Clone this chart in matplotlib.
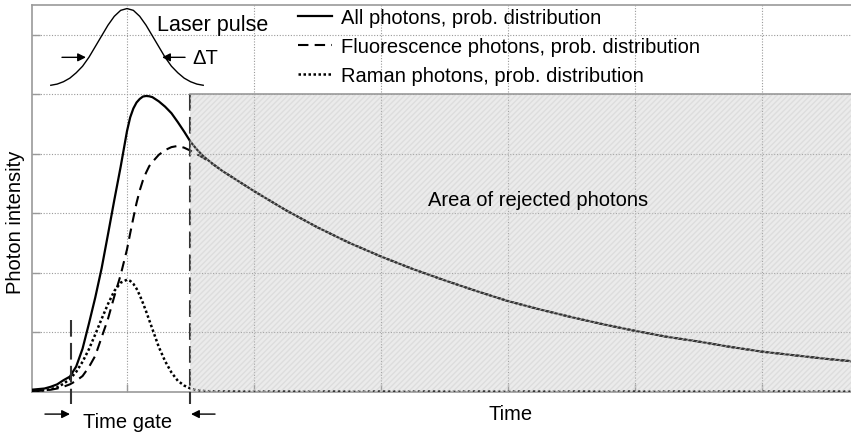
import matplotlib
matplotlib.use("Agg")
import matplotlib.pyplot as plt
from matplotlib.patches import Rectangle

plt.rcParams['font.family'] = ['Liberation Sans', 'DejaVu Sans']

# ---- data (arbitrary time / intensity units) ----
time = [0.25, 0.30, 0.35, 0.40, 0.45, 0.50, 0.55, 0.60, 0.65, 0.70, 0.75, 0.80,
        0.85, 0.90, 0.95, 1.00, 1.025, 1.05, 1.075, 1.10, 1.125, 1.15, 1.175, 1.20,
        1.25, 1.30, 1.35, 1.40, 1.45, 1.50, 1.55, 1.60, 1.65, 1.75, 2.00, 2.25,
        2.50, 2.75, 3.00, 3.25, 3.50, 3.75, 4.00, 4.25, 4.50, 4.75, 5.00, 5.25,
        5.50, 5.75, 6.00, 6.25, 6.50, 6.75]
all_photons = [0.03, 0.04, 0.05, 0.08, 0.12, 0.19, 0.25, 0.42, 0.72, 1.14, 1.58, 2.07,
               2.64, 3.22, 3.78, 4.38, 4.61, 4.76, 4.86, 4.92, 4.96, 4.97, 4.965, 4.95,
               4.88, 4.79, 4.68, 4.53, 4.37, 4.20, 4.07, 3.96, 3.87, 3.71, 3.37, 3.05,
               2.76, 2.50, 2.27, 2.06, 1.87, 1.69, 1.52, 1.38, 1.25, 1.13, 1.02, 0.92,
               0.84, 0.75, 0.67, 0.61, 0.55, 0.50]
fluorescence = [0.01, 0.01, 0.02, 0.03, 0.05, 0.08, 0.12, 0.18, 0.26, 0.41, 0.60, 0.91,
                1.22, 1.60, 1.96, 2.39, 2.66, 2.92, 3.17, 3.38, 3.55, 3.68, 3.79, 3.86,
                3.98, 4.06, 4.11, 4.13, 4.10, 4.05, 3.99, 3.93, 3.86, 3.71, 3.37, 3.05,
                2.76, 2.50, 2.27, 2.06, 1.87, 1.69, 1.52, 1.38, 1.25, 1.13, 1.02, 0.92,
                0.84, 0.75, 0.67, 0.61, 0.55, 0.50]
raman = [0.004, 0.009, 0.02, 0.04, 0.07, 0.13, 0.21, 0.33, 0.50, 0.71, 0.96, 1.22,
         1.47, 1.69, 1.83, 1.88, 1.86, 1.81, 1.73, 1.62, 1.49, 1.35, 1.20, 1.05,
         0.75, 0.51, 0.32, 0.18, 0.10, 0.05, 0.023, 0.01, 0.004, 0.001, 0.0, 0.0,
         0.0, 0.0, 0.0, 0.0, 0.0, 0.0, 0.0, 0.0, 0.0, 0.0, 0.0, 0.0,
         0.0, 0.0, 0.0, 0.0, 0.0, 0.0]

pulse_time = [0.40, 0.45, 0.50, 0.55, 0.60, 0.65, 0.70, 0.75, 0.80, 0.85, 0.90, 0.95,
              1.00, 1.05, 1.10, 1.15, 1.20, 1.25, 1.30, 1.35, 1.40, 1.45, 1.50, 1.55, 1.60]
pulse_level = [5.15, 5.17, 5.21, 5.27, 5.36, 5.47, 5.62, 5.80, 5.98, 6.16, 6.31, 6.41,
               6.44, 6.41, 6.31, 6.16, 5.98, 5.80, 5.62, 5.47, 5.36, 5.27, 5.21, 5.17, 5.15]

gate_start = 0.56
gate_end = 1.496
reject_top = 5.0

legend_labels = ["All photons, prob. distribution",
                 "Fluorescence photons, prob. distribution",
                 "Raman photons, prob. distribution"]

# ---- figure ----
fig = plt.figure(figsize=(8.51, 4.35), dpi=100)
ax = fig.add_axes([32 / 851, (435 - 392.5) / 435, 819 / 851, 386.5 / 435])
ax.set_xlim(0.252, 6.70)
ax.set_ylim(0, 6.5)

ax.set_xticks([1, 2, 3, 4, 5, 6])
ax.set_yticks([1, 2, 3, 4, 5, 6])
ax.set_xticklabels([])
ax.set_yticklabels([])
ax.tick_params(direction='in', length=6, color='#999999', width=1)
ax.grid(True, color='#9a9a9a', linestyle=(0, (1, 1.5)), linewidth=0.8)
for s in ['left', 'bottom', 'top']:
    ax.spines[s].set_color('#9a9a9a')
    ax.spines[s].set_linewidth(1.2)
ax.spines['right'].set_visible(False)

fs = 14.5
l1, = ax.plot(time, all_photons, color='black', lw=1.6, zorder=3)
l2, = ax.plot(time, fluorescence, color='black', lw=1.5, linestyle=(0, (5, 3)), zorder=3)
l3, = ax.plot(time, raman, color='black', lw=1.8, linestyle=(0, (1, 1)), zorder=3)

ax.plot(pulse_time, pulse_level, color='black', lw=1.0, zorder=3)

# time gate lines
ax.plot([gate_start, gate_start], [1.2, -0.21], color='#333333', lw=1.5,
        linestyle=(0, (8, 3)), clip_on=False, zorder=4)
ax.plot([gate_end, gate_end], [reject_top, -0.21], color='#333333', lw=1.5,
        linestyle=(0, (8, 3)), clip_on=False, zorder=4)

# rejected area
ax.add_patch(Rectangle((gate_end, 0), 6.70 - gate_end, reject_top,
                       facecolor='#b8b8b8', alpha=0.28, edgecolor='none', zorder=5))
ax.add_patch(Rectangle((gate_end, 0), 6.70 - gate_end, reject_top,
                       facecolor='none', edgecolor='#d4d4d4', hatch='//////',
                       lw=0, alpha=0.6, zorder=5))
ax.plot([gate_end, 6.70], [reject_top, reject_top], color='#9a9a9a', lw=1.2, zorder=5)

# arrows
arr = dict(arrowstyle='-|>', color='black', lw=1.0, mutation_scale=12, shrinkA=0, shrinkB=0)
ax.annotate('', xy=(0.677, 5.62), xytext=(0.488, 5.62), arrowprops=arr)
ax.annotate('', xy=(1.276, 5.62), xytext=(1.457, 5.62), arrowprops=arr)
ax.text(1.515, 5.62, '\u0394T', fontsize=fs, va='center', ha='left')
ax.text(1.236, 6.08, 'Laser pulse', fontsize=15.5, va='baseline', ha='left')
ax.text(3.37, 3.134, 'Area of rejected photons', fontsize=fs, va='baseline', ha='left', zorder=6)

ax.annotate('', xy=(0.551, -0.38), xytext=(0.354, -0.38), arrowprops=arr, annotation_clip=False)
ax.annotate('', xy=(1.504, -0.38), xytext=(1.693, -0.38), arrowprops=arr, annotation_clip=False)
ax.text(1.008, -0.60, 'Time gate', fontsize=fs, va='baseline', ha='center', clip_on=False)
ax.text(4.016, -0.47, 'Time', fontsize=fs, va='baseline', ha='center', clip_on=False)
fig.text(16 / 851, 1 - 222 / 435, 'Photon intensity', fontsize=fs, rotation=90,
         va='center', ha='center')

leg = ax.legend([l1, l2, l3], legend_labels, loc='upper left',
                bbox_to_anchor=((298 - 32) / 819, 0.993), frameon=False, fontsize=fs,
                borderpad=0, borderaxespad=0, handlelength=1.7, handletextpad=0.45,
                labelspacing=0.5)

fig.savefig('out.png', dpi=100)
